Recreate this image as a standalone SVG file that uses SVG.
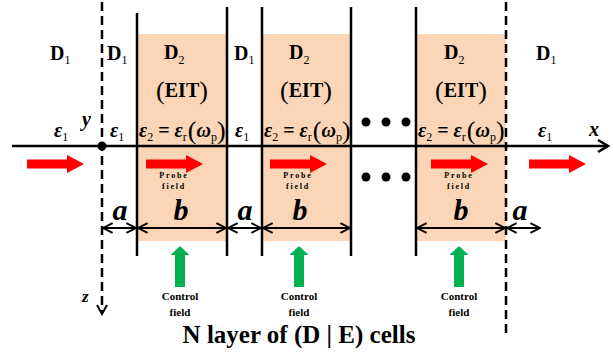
<svg xmlns="http://www.w3.org/2000/svg" width="613" height="355" viewBox="0 0 613 355">
  <style>
    .cell { fill: #fbd5b5; }
    .wall { stroke: #000; stroke-width: 2.5; fill: none; }
    .dash { stroke: #000; stroke-width: 2.5; stroke-dasharray: 9 5; fill: none; }
    .dim { stroke: #000; stroke-width: 2; fill: none; marker-start: url(#chev-s); marker-end: url(#chev-e); }
    .t { font-family: "Liberation Serif", "Times New Roman", serif; font-weight: bold; fill: #000; }
    .lab { font-size: 20px; }
    .sub { font-size: 12px; font-weight: normal; }
    .it { font-style: italic; }
    .par { font-size: 26px; font-weight: normal; }
    .len { font-size: 30px; font-style: italic; }
    .small { font-size: 8px; letter-spacing: 1.8px; }
    .ctl { font-size: 11px; }
    .probe { fill: #ff0000; }
    .ctrl { fill: #00b050; }
  </style>
  <defs>
    <marker id="chev-e" viewBox="0 0 10 10" refX="9" refY="5" markerWidth="6" markerHeight="6" markerUnits="strokeWidth" orient="auto">
      <path d="M1,1 L9,5 L1,9" fill="none" stroke="#000" stroke-width="1.6"/>
    </marker>
    <marker id="chev-s" viewBox="0 0 10 10" refX="1" refY="5" markerWidth="6" markerHeight="6" markerUnits="strokeWidth" orient="auto">
      <path d="M9,1 L1,5 L9,9" fill="none" stroke="#000" stroke-width="1.6"/>
    </marker>
    <path id="red-arrow" d="M0,-4.5 H40 V-9 L57,0 L40,9 V4.5 H0 Z"/>
    <path id="green-arrow" d="M-5,41 V9 H-9.5 L0,0 L9.5,9 H5 V41 Z"/>
  </defs>

  <!-- EIT cells -->
  <g id="cells">
    <rect class="cell" x="137" y="34" width="90" height="207"/>
    <rect class="cell" x="262" y="34" width="89" height="207"/>
    <rect class="cell" x="416" y="34" width="90" height="207"/>
  </g>

  <!-- layer boundaries -->
  <g id="boundaries">
    <line class="wall" x1="137" y1="13" x2="137" y2="256"/>
    <line class="wall" x1="227" y1="7" x2="227" y2="256"/>
    <line class="wall" x1="262" y1="7" x2="262" y2="256"/>
    <line class="wall" x1="351" y1="7" x2="351" y2="256"/>
    <line class="wall" x1="416" y1="7" x2="416" y2="256"/>
    <line class="dash" x1="102" y1="2" x2="102" y2="313"/>
    <line class="dash" x1="506" y1="2" x2="506" y2="336"/>
  </g>

  <!-- axes and widths -->
  <g id="connectors">
    <line x1="12" y1="146" x2="607" y2="146" stroke="#000" stroke-width="2.5"/>
    <path d="M598,140 L608,146 L598,152" fill="none" stroke="#000" stroke-width="2.5"/>
    <path d="M97,305 L102,314 L107,305" fill="none" stroke="#000" stroke-width="2"/>
    <circle cx="102" cy="146" r="4.5" fill="#000"/>
    <line class="dim" x1="103" y1="228" x2="136" y2="228"/>
    <line class="dim" x1="138" y1="228" x2="226" y2="228"/>
    <line class="dim" x1="228" y1="228" x2="261" y2="228"/>
    <line class="dim" x1="263" y1="228" x2="350" y2="228"/>
    <line class="dim" x1="417" y1="228" x2="505" y2="228"/>
    <line class="dim" x1="507" y1="228" x2="540" y2="228"/>
  </g>

  <!-- probe and control fields -->
  <g id="fields">
    <use href="#red-arrow" class="probe" x="27" y="164"/>
    <use href="#red-arrow" class="probe" x="146" y="164"/>
    <use href="#red-arrow" class="probe" x="270" y="164"/>
    <use href="#red-arrow" class="probe" x="431" y="164"/>
    <use href="#red-arrow" class="probe" x="529" y="164"/>
    <use href="#green-arrow" class="ctrl" x="180" y="246"/>
    <use href="#green-arrow" class="ctrl" x="299" y="246"/>
    <use href="#green-arrow" class="ctrl" x="459" y="246"/>
  </g>

  <!-- ellipsis -->
  <g id="ellipsis" fill="#000">
    <circle cx="366" cy="122" r="4.5"/>
    <circle cx="386" cy="122" r="4.5"/>
    <circle cx="406" cy="122" r="4.5"/>
    <circle cx="366" cy="177" r="4.5"/>
    <circle cx="386" cy="177" r="4.5"/>
    <circle cx="406" cy="177" r="4.5"/>
  </g>

  <g id="labels" class="t">
    <!-- media -->
    <text class="lab" x="50" y="60">D<tspan class="sub" dy="4">1</tspan></text>
    <text class="lab" x="107" y="60">D<tspan class="sub" dy="4">1</tspan></text>
    <text class="lab" x="234" y="60">D<tspan class="sub" dy="4">1</tspan></text>
    <text class="lab" x="536" y="60">D<tspan class="sub" dy="4">1</tspan></text>

    <text class="lab" x="164" y="59">D<tspan class="sub" dy="5">2</tspan></text>
    <text class="lab" x="289" y="59">D<tspan class="sub" dy="5">2</tspan></text>
    <text class="lab" x="444" y="59">D<tspan class="sub" dy="5">2</tspan></text>

    <text class="lab" x="182" y="97" text-anchor="middle"><tspan class="par" dy="2">(</tspan><tspan dy="-2">EIT</tspan><tspan class="par" dy="2">)</tspan></text>
    <text class="lab" x="306" y="97" text-anchor="middle"><tspan class="par" dy="2">(</tspan><tspan dy="-2">EIT</tspan><tspan class="par" dy="2">)</tspan></text>
    <text class="lab" x="461" y="97" text-anchor="middle"><tspan class="par" dy="2">(</tspan><tspan dy="-2">EIT</tspan><tspan class="par" dy="2">)</tspan></text>

    <!-- permittivities -->
    <text class="lab it" x="54" y="137">ε<tspan class="sub" font-style="normal" dy="4">1</tspan></text>
    <text class="lab it" x="110" y="137">ε<tspan class="sub" font-style="normal" dy="4">1</tspan></text>
    <text class="lab it" x="235" y="137">ε<tspan class="sub" font-style="normal" dy="4">1</tspan></text>
    <text class="lab it" x="538" y="137">ε<tspan class="sub" font-style="normal" dy="4">1</tspan></text>

    <text class="lab" x="139" y="137"><tspan class="it">ε</tspan><tspan class="sub" dy="4">2</tspan><tspan dy="-4"> = </tspan><tspan class="it">ε</tspan><tspan class="sub" dy="4">r</tspan><tspan class="par" dx="1" dy="-2">(</tspan><tspan class="it" dy="-2">ω</tspan><tspan class="sub" dy="4">p</tspan><tspan class="par" dy="-2">)</tspan></text>
    <text class="lab" x="264" y="137"><tspan class="it">ε</tspan><tspan class="sub" dy="4">2</tspan><tspan dy="-4"> = </tspan><tspan class="it">ε</tspan><tspan class="sub" dy="4">r</tspan><tspan class="par" dx="1" dy="-2">(</tspan><tspan class="it" dy="-2">ω</tspan><tspan class="sub" dy="4">p</tspan><tspan class="par" dy="-2">)</tspan></text>
    <text class="lab" x="418" y="137"><tspan class="it">ε</tspan><tspan class="sub" dy="4">2</tspan><tspan dy="-4"> = </tspan><tspan class="it">ε</tspan><tspan class="sub" dy="4">r</tspan><tspan class="par" dx="1" dy="-2">(</tspan><tspan class="it" dy="-2">ω</tspan><tspan class="sub" dy="4">p</tspan><tspan class="par" dy="-2">)</tspan></text>

    <!-- axis names -->
    <text class="lab it" x="82" y="126">y</text>
    <text class="lab it" x="589" y="136">x</text>
    <text class="it" font-size="17" x="82" y="302">z</text>

    <!-- widths -->
    <text class="len" x="120" y="220" text-anchor="middle">a</text>
    <text class="len" x="181" y="220" text-anchor="middle">b</text>
    <text class="len" x="245" y="220" text-anchor="middle">a</text>
    <text class="len" x="300" y="220" text-anchor="middle">b</text>
    <text class="len" x="461" y="220" text-anchor="middle">b</text>
    <text class="len" x="520" y="220" text-anchor="middle">a</text>

    <!-- field names -->
    <text class="small" x="174" y="178" text-anchor="middle">Probe</text>
    <text class="small" x="174" y="189" text-anchor="middle">field</text>
    <text class="small" x="298" y="178" text-anchor="middle">Probe</text>
    <text class="small" x="298" y="189" text-anchor="middle">field</text>
    <text class="small" x="459" y="178" text-anchor="middle">Probe</text>
    <text class="small" x="459" y="189" text-anchor="middle">field</text>

    <text class="ctl" x="180" y="300" text-anchor="middle">Control</text>
    <text class="ctl" x="180" y="316" text-anchor="middle">field</text>
    <text class="ctl" x="299" y="300" text-anchor="middle">Control</text>
    <text class="ctl" x="299" y="316" text-anchor="middle">field</text>
    <text class="ctl" x="459" y="300" text-anchor="middle">Control</text>
    <text class="ctl" x="459" y="316" text-anchor="middle">field</text>

    <text font-size="25" x="299" y="343" text-anchor="middle">N layer of (D | E) cells</text>
  </g>
</svg>
